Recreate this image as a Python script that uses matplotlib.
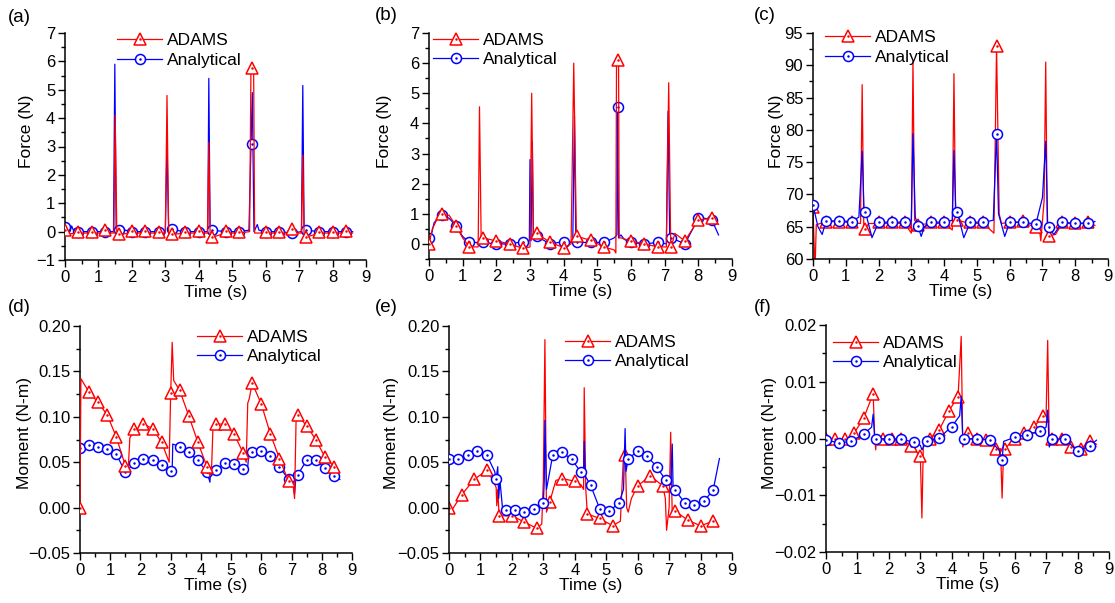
import numpy as np
import matplotlib
matplotlib.use("Agg")
import matplotlib.pyplot as plt
from matplotlib.lines import Line2D
from matplotlib.ticker import MultipleLocator, FuncFormatter

plt.rcParams['font.family'] = ['Liberation Sans', 'DejaVu Sans']

# ---------------- marker time grids ----------------
T04 = [0.0, 0.4, 0.8, 1.2, 1.6, 2.0, 2.4, 2.8, 3.2, 3.6, 4.0, 4.4, 4.8, 5.2,
       5.6, 6.0, 6.4, 6.8, 7.2, 7.6, 8.0, 8.4]
T03 = [0.0, 0.3, 0.6, 0.9, 1.2, 1.5, 1.8, 2.1, 2.4, 2.7, 3.0, 3.3, 3.6, 3.9,
       4.2, 4.5, 4.8, 5.1, 5.4, 5.7, 6.0, 6.3, 6.6, 6.9, 7.2, 7.5, 7.8, 8.1, 8.4]

# ---------------- panel (a) ----------------
a_adams_t = [0.0, 0.1, 0.4, 0.8, 1.2, 1.46, 1.5, 1.55, 1.6, 2.0, 2.4, 2.8, 3.0, 3.05, 3.1, 3.2,
             3.6, 4.0, 4.26, 4.3, 4.34, 4.4, 4.8, 5.2, 5.52, 5.56, 5.64, 5.67, 5.7, 6.0, 6.4,
             6.8, 7.07, 7.11, 7.15, 7.2, 7.6, 8.0, 8.4, 8.6]
a_adams_y = [0.1, -0.08, -0.05, -0.05, -0.05, -0.05, 4.1, -0.1, -0.1, -0.05, -0.05, -0.05, -0.05,
             4.8, -0.1, -0.1, -0.05, -0.05, -0.05, 3.15, -0.2, -0.2, -0.05, -0.05, 0.0, 5.75, 5.75,
             -0.05, -0.05, -0.05, -0.05, -0.05, -0.05, 2.7, -0.2, -0.2, -0.05, -0.05, -0.05, -0.05]
a_anal_t = [0.0, 0.05, 0.1, 0.15, 0.2, 0.25, 0.3, 0.4, 0.8, 1.2, 1.45, 1.49, 1.53, 1.6, 1.7, 1.8,
            2.0, 2.4, 2.8, 3.0, 3.05, 3.1, 3.2, 3.25, 3.3, 3.6, 4.0, 4.27, 4.3, 4.34, 4.4, 4.8,
            5.2, 5.5, 5.6, 5.65, 5.75, 5.8, 6.0, 6.4, 6.8, 7.07, 7.11, 7.15, 7.2, 7.6, 8.0, 8.4, 8.6]
a_anal_y = [0.2, 0.05, 0.25, 0.0, 0.2, 0.05, 0.1, 0.0, 0.0, 0.0, 0.0, 5.9, 0.0, 0.05, 0.2, 0.05,
            0.0, 0.0, 0.0, 0.0, 3.1, 0.0, 0.1, 0.2, 0.05, 0.0, 0.0, 0.0, 5.4, 0.0, 0.05, 0.0,
            0.0, 0.05, 4.9, 0.0, 0.25, 0.05, 0.0, 0.0, -0.05, 0.0, 5.15, 0.0, 0.05, 0.0, 0.0, 0.0, 0.0]
a_adams_mk = [0.05, 0.0, 0.0, 0.05, -0.1, 0.02, 0.02, 0.0, -0.1, 0.0, 0.02, -0.2, 0.02, 0.0,
              5.75, 0.0, 0.0, 0.08, -0.2, 0.0, 0.0, 0.02]
a_anal_mk = [0.15, 0.0, 0.0, 0.0, 0.05, 0.0, 0.0, 0.0, 0.1, 0.0, 0.0, 0.05, 0.0, 0.0,
             3.1, 0.0, 0.0, -0.05, 0.05, 0.0, 0.0, 0.0]

# ---------------- panel (b) ----------------
b_adams_t = [0.0, 0.1, 0.25, 0.4, 0.6, 0.8, 1.0, 1.2, 1.46, 1.5, 1.55, 1.6, 2.0, 2.4, 2.8, 3.0,
             3.05, 3.1, 3.2, 3.6, 4.0, 4.22, 4.3, 4.38, 4.4, 4.8, 5.2, 5.5, 5.55, 5.57, 5.63, 5.65,
             5.7, 6.0, 6.4, 6.8, 7.05, 7.12, 7.18, 7.2, 7.3, 7.6, 8.0, 8.4, 8.6]
b_adams_y = [0.0, 0.5, 0.85, 0.98, 0.95, 0.6, 0.2, -0.1, -0.1, 4.55, 0.1, 0.2, 0.1, 0.0, -0.15, -0.1,
             5.0, 0.2, 0.35, 0.05, -0.12, 0.0, 6.0, 0.1, 0.25, 0.12, -0.1, -0.2, -0.3, 6.1, 6.1, 0.2,
             0.2, 0.1, 0.0, -0.1, -0.1, 5.35, -0.1, -0.1, 0.35, 0.1, 0.8, 0.85, 0.65]
b_anal_t = [0.05, 0.15, 0.3, 0.4, 0.6, 0.8, 1.0, 1.2, 1.5, 1.6, 2.0, 2.4, 2.8, 2.98, 3.0, 3.03,
            3.07, 3.1, 3.2, 3.6, 4.0, 4.27, 4.32, 4.36, 4.4, 4.8, 5.2, 5.5, 5.58, 5.6, 5.63, 5.7,
            5.8, 6.0, 6.4, 6.8, 7.05, 7.1, 7.15, 7.2, 7.6, 8.0, 8.2, 8.4, 8.6]
b_anal_y = [0.2, 0.7, 0.9, 0.95, 0.85, 0.6, 0.25, 0.05, 0.05, 0.05, 0.0, 0.0, 0.08, 0.1, 2.8, 0.1,
            3.4, 0.2, 0.25, 0.0, 0.08, 0.05, 4.25, 0.1, 0.05, 0.05, 0.05, 0.2, 0.3, 4.55, 0.2, 0.3,
            0.15, 0.05, 0.0, 0.05, 0.0, 4.4, 0.15, 0.2, 0.0, 0.85, 0.85, 0.8, 0.3]
b_adams_mk = [0.0, 0.98, 0.6, -0.1, 0.2, 0.1, 0.0, -0.15, 0.35, 0.05, -0.12, 0.25, 0.12, -0.1,
              6.1, 0.1, 0.0, -0.1, -0.1, 0.1, 0.8, 0.85]
b_anal_mk = [0.2, 0.95, 0.6, 0.05, 0.05, 0.0, 0.0, 0.08, 0.25, 0.0, 0.08, 0.05, 0.05, 0.05,
             4.55, 0.05, 0.0, 0.05, 0.2, 0.0, 0.85, 0.8]

# ---------------- panel (c) ----------------
c_adams_t = [0.0, 0.03, 0.06, 0.1, 0.4, 0.8, 1.2, 1.45, 1.5, 1.55, 1.6, 1.7, 2.0, 2.4, 2.8, 3.0,
             3.05, 3.1, 3.2, 3.6, 4.0, 4.25, 4.3, 4.35, 4.4, 4.8, 5.2, 5.52, 5.6, 5.68, 5.75, 6.0,
             6.4, 6.75, 6.9, 6.95, 7.05, 7.1, 7.15, 7.2, 7.4, 7.6, 8.0, 8.4, 8.6]
c_adams_y = [68.0, 63.0, 58.0, 65.3, 65.8, 65.8, 65.6, 65.5, 87.0, 64.7, 64.7, 65.5, 65.5, 65.5,
             65.5, 64.0, 90.6, 66.0, 65.3, 65.5, 65.5, 64.5, 88.7, 66.0, 66.0, 65.5, 65.5, 64.0,
             93.0, 67.0, 65.5, 65.7, 65.7, 65.0, 65.0, 62.8, 69.0, 90.5, 64.0, 63.6, 63.8, 65.5,
             65.5, 65.5, 65.2]
c_anal_t = [0.0, 0.15, 0.28, 0.4, 0.8, 1.2, 1.4, 1.5, 1.56, 1.6, 1.8, 2.0, 2.4, 2.8, 3.0, 3.05,
            3.12, 3.3, 3.4, 3.6, 4.0, 4.25, 4.3, 4.36, 4.4, 4.6, 4.8, 5.2, 5.5, 5.6, 5.66, 5.85,
            6.0, 6.4, 6.8, 7.0, 7.1, 7.16, 7.35, 7.6, 8.0, 8.4, 8.6]
c_anal_y = [68.4, 65.0, 63.8, 65.9, 65.9, 65.8, 66.5, 76.7, 67.0, 67.3, 63.3, 65.7, 65.7, 65.7,
            66.0, 79.4, 66.5, 63.5, 65.0, 65.7, 65.7, 66.0, 76.8, 67.0, 67.3, 63.3, 65.7, 65.7,
            66.0, 79.4, 67.0, 63.5, 65.7, 65.7, 65.4, 69.5, 78.2, 65.0, 63.8, 65.7, 65.5, 65.6, 65.8]
c_adams_mk = [68.0, 65.8, 65.8, 65.8, 64.7, 65.8, 65.8, 65.8, 65.3, 65.8, 65.8, 66.0, 65.8, 65.8,
              93.0, 65.8, 65.9, 65.0, 63.6, 65.8, 65.6, 65.7]
c_anal_mk = [68.4, 65.9, 65.9, 65.8, 67.3, 65.7, 65.7, 65.7, 65.1, 65.7, 65.7, 67.3, 65.7, 65.7,
             79.4, 65.7, 65.7, 65.4, 65.0, 65.7, 65.5, 65.6]

# ---------------- panel (d) ----------------
d_adams_t = [0.0, 0.03, 0.3, 0.6, 0.9, 1.2, 1.5, 1.55, 1.6, 1.65, 1.8, 2.1, 2.4, 2.7, 2.95, 3.0,
             3.05, 3.1, 3.3, 3.6, 3.9, 4.2, 4.3, 4.35, 4.4, 4.5, 4.8, 5.1, 5.4, 5.5, 5.55, 5.6,
             5.7, 6.0, 6.3, 6.6, 6.9, 7.05, 7.1, 7.15, 7.2, 7.5, 7.8, 8.1, 8.4, 8.5]
d_adams_y = [0.0, 0.142, 0.127, 0.116, 0.102, 0.078, 0.046, 0.042, 0.045, 0.077, 0.084, 0.092,
             0.087, 0.072, 0.05, 0.125, 0.182, 0.14, 0.129, 0.101, 0.072, 0.045, 0.035, 0.04,
             0.088, 0.092, 0.092, 0.081, 0.060, 0.05, 0.115, 0.12, 0.137, 0.114, 0.081, 0.054,
             0.029, 0.025, 0.01, 0.097, 0.102, 0.090, 0.075, 0.056, 0.045, 0.04]
d_anal_t = [0.0, 0.3, 0.6, 0.9, 1.2, 1.5, 1.8, 2.1, 2.4, 2.7, 3.0, 3.05, 3.07, 3.3, 3.6, 3.9,
            4.2, 4.3, 4.32, 4.5, 4.8, 5.1, 5.4, 5.55, 5.6, 5.7, 6.0, 6.3, 6.6, 6.9, 7.05, 7.1,
            7.15, 7.2, 7.5, 7.8, 8.1, 8.4, 8.6]
d_anal_y = [0.066, 0.069, 0.067, 0.064, 0.059, 0.039, 0.049, 0.053, 0.052, 0.047, 0.040, 0.042,
            0.070, 0.067, 0.061, 0.052, 0.039, 0.028, 0.040, 0.041, 0.049, 0.048, 0.042, 0.045,
            0.065, 0.061, 0.062, 0.057, 0.045, 0.031, 0.028, 0.015, 0.036, 0.036, 0.052, 0.052,
            0.044, 0.035, 0.031]
d_adams_mk = [0.0, 0.127, 0.116, 0.102, 0.078, 0.046, 0.087, 0.092, 0.087, 0.072, 0.126, 0.129,
              0.101, 0.072, 0.045, 0.092, 0.092, 0.081, 0.060, 0.137, 0.114, 0.081, 0.054, 0.029,
              0.102, 0.090, 0.075, 0.056, 0.045]
d_anal_mk = [0.066, 0.069, 0.067, 0.064, 0.059, 0.039, 0.049, 0.053, 0.052, 0.047, 0.040, 0.067,
             0.061, 0.052, 0.039, 0.041, 0.049, 0.048, 0.042, 0.061, 0.062, 0.057, 0.045, 0.031,
             0.036, 0.052, 0.052, 0.044, 0.035]

# ---------------- panel (e) ----------------
e_adams_t = [0.0, 0.05, 0.4, 0.8, 1.2, 1.4, 1.5, 1.52, 1.55, 1.58, 1.6, 2.0, 2.4, 2.8, 2.95, 3.0,
             3.05, 3.1, 3.2, 3.4, 3.6, 4.0, 4.2, 4.28, 4.3, 4.35, 4.4, 4.8, 5.2, 5.45, 5.55, 5.6,
             5.62, 5.65, 5.7, 5.8, 6.0, 6.4, 6.8, 6.88, 6.92, 7.0, 7.05, 7.1, 7.2, 7.6, 8.0, 8.4]
e_adams_y = [0.0, -0.005, 0.014, 0.031, 0.041, 0.03, 0.022, 0.002, 0.02, 0.0, -0.009, -0.009,
             -0.016, -0.023, -0.018, 0.03, 0.185, -0.005, 0.006, 0.03, 0.032, 0.029, 0.025, 0.02,
             0.132, 0.02, -0.007, -0.012, -0.020, -0.015, 0.058, 0.06, 0.04, 0.0, -0.005, 0.01,
             0.024, 0.035, 0.024, 0.01, -0.025, 0.0, 0.083, -0.01, -0.004, -0.014, -0.020, -0.015]
e_anal_t = [0.0, 0.3, 0.6, 0.9, 1.2, 1.45, 1.5, 1.55, 1.58, 1.62, 1.7, 1.8, 2.1, 2.4, 2.7, 3.0,
            3.03, 3.05, 3.1, 3.3, 3.6, 3.9, 4.2, 4.28, 4.3, 4.33, 4.5, 4.8, 5.1, 5.4, 5.55, 5.6,
            5.63, 5.7, 6.0, 6.3, 6.6, 6.9, 7.05, 7.1, 7.13, 7.2, 7.5, 7.8, 8.1, 8.4, 8.6]
e_anal_y = [0.054, 0.053, 0.058, 0.062, 0.058, 0.04, 0.032, 0.045, 0.01, 0.03, 0.0, -0.003,
            -0.003, -0.005, -0.001, 0.005, 0.03, 0.096, 0.02, 0.058, 0.061, 0.053, 0.039, 0.035,
            0.073, 0.035, 0.025, -0.002, -0.004, 0.005, 0.02, 0.087, 0.04, 0.054, 0.062, 0.057,
            0.045, 0.030, 0.025, 0.07, 0.015, 0.019, 0.005, 0.003, 0.007, 0.019, 0.054]
e_adams_mk = [0.0, 0.014, 0.031, 0.041, -0.009, -0.009, -0.016, -0.023, 0.006, 0.032, 0.029,
              -0.007, -0.012, -0.020, 0.058, 0.024, 0.035, 0.024, -0.004, -0.014, -0.020, -0.015]
e_anal_mk = [0.054, 0.053, 0.058, 0.062, 0.058, 0.032, -0.003, -0.003, -0.005, -0.001, 0.005,
             0.058, 0.061, 0.053, 0.039, 0.025, -0.002, -0.004, 0.005, 0.054, 0.062, 0.057,
             0.045, 0.030, 0.019, 0.005, 0.003, 0.007, 0.019]

# ---------------- panel (f) ----------------
f_adams_t = [0.0, 0.15, 0.3, 0.45, 0.6, 0.75, 0.9, 1.2, 1.5, 1.55, 1.58, 1.6, 1.8, 1.95, 2.1,
             2.25, 2.4, 2.7, 3.0, 3.05, 3.1, 3.3, 3.6, 3.9, 4.2, 4.3, 4.35, 4.5, 4.8, 5.1, 5.4,
             5.55, 5.6, 5.65, 5.7, 5.9, 6.0, 6.3, 6.6, 6.9, 7.0, 7.05, 7.1, 7.2, 7.4, 7.5, 7.8,
             8.1, 8.4, 8.6]
f_adams_y = [0.0, -0.0005, 0.0005, -0.0005, 0.0005, -0.0005, 0.001, 0.0036, 0.0079, 0.0, -0.002,
             -0.0005, 0.0, -0.0005, 0.0005, -0.0005, 0.0, -0.0013, -0.0031, -0.014, 0.0, 0.0,
             0.0015, 0.0048, 0.0074, 0.018, -0.0015, 0.001, 0.0, -0.0002, -0.0018, -0.0018,
             -0.0105, -0.0018, -0.0018, -0.0005, 0.0, 0.001, 0.002, 0.0039, 0.004, 0.0173, -0.001,
             0.0, -0.0005, 0.0005, -0.0015, -0.0018, -0.0005, -0.001]
f_anal_t = [0.0, 0.4, 0.8, 1.2, 1.45, 1.5, 1.55, 1.6, 2.0, 2.4, 2.8, 3.0, 3.05, 3.2, 3.6, 4.0,
            4.25, 4.3, 4.35, 4.4, 4.8, 5.2, 5.5, 5.6, 5.65, 6.0, 6.4, 6.8, 7.0, 7.05, 7.1, 7.2,
            7.6, 8.0, 8.4, 8.6]
f_anal_y = [-0.0002, -0.0008, -0.0005, 0.0008, 0.002, 0.0043, -0.0001, -0.0001, 0.0, -0.0001,
            -0.0007, -0.0012, -0.002, -0.0005, 0.0001, 0.0021, 0.004, 0.0074, -0.0001, -0.0001,
            0.0, -0.0003, -0.002, -0.0038, -0.0005, 0.0002, 0.0007, 0.0013, 0.002, 0.005,
            -0.0015, -0.0001, -0.0001, -0.0022, -0.0013, -0.0003]
f_adams_mk = [0.0, 0.0, 0.0, 0.001, 0.0036, 0.0079, 0.0, 0.0, 0.0, -0.0013, -0.0031, 0.0, 0.0015,
              0.0048, 0.0074, 0.001, 0.0, -0.0002, -0.0018, -0.0018, 0.0, 0.001, 0.002, 0.0039,
              0.0, 0.0, -0.0015, -0.0018, -0.0005]
f_anal_mk = [-0.0002, -0.0008, -0.0005, 0.0008, -0.0001, 0.0, -0.0001, -0.0007, -0.0005, 0.0001,
             0.0021, -0.0001, 0.0, -0.0003, -0.0038, 0.0002, 0.0007, 0.0013, -0.0001, -0.0001,
             -0.0022, -0.0013]

# ---------------- layout / styling ----------------
W, H = 1115, 603
RED = '#ff0000'
BLUE = '#0000ff'

panels = [
    dict(tag='(a)', box=(65, 366, 33, 260), ylim=(-1, 7), major=1, minor=0.5, fmt='%d',
         ylabel='Force (N)', adams=(a_adams_t, a_adams_y, T04, a_adams_mk),
         anal=(a_anal_t, a_anal_y, T04, a_anal_mk), red_top=True, leg=(117, 50.5), lab=(8, 18),
         ylab=(27, 131)),
    dict(tag='(b)', box=(429, 732, 33, 259), ylim=(-0.5, 7), major=1, minor=0.5, fmt='%d',
         ylabel='Force (N)', adams=(b_adams_t, b_adams_y, T04, b_adams_mk),
         anal=(b_anal_t, b_anal_y, T04, b_anal_mk), red_top=True, leg=(433, 50), lab=(375, 16),
         ylab=(385, 131)),
    dict(tag='(c)', box=(813, 1108, 33, 259), ylim=(60, 95), major=5, minor=2.5, fmt='%d',
         ylabel='Force (N)', adams=(c_adams_t, c_adams_y, T04, c_adams_mk),
         anal=(c_anal_t, c_anal_y, T04, c_anal_mk), red_top=False, leg=(825, 47.5), lab=(754, 16),
         ylab=(777, 131)),
    dict(tag='(d)', box=(80, 352, 326, 553), ylim=(-0.05, 0.2), major=0.05, minor=0.025,
         fmt='%.2f', ylabel='Moment (N-m)', adams=(d_adams_t, d_adams_y, T03, d_adams_mk),
         anal=(d_anal_t, d_anal_y, T03, d_anal_mk), red_top=True, leg=(197, 347), lab=(8, 307),
         ylab=(25, 433)),
    dict(tag='(e)', box=(449, 732, 326, 553), ylim=(-0.05, 0.2), major=0.05, minor=0.025,
         fmt='%.2f', ylabel='Moment (N-m)', adams=(e_adams_t, e_adams_y, T04, e_adams_mk),
         anal=(e_anal_t, e_anal_y, T03, e_anal_mk), red_top=False, leg=(565, 352), lab=(375, 307),
         ylab=(392, 433)),
    dict(tag='(f)', box=(826, 1109, 325, 552), ylim=(-0.02, 0.02), major=0.01, minor=0.005,
         fmt='%.2f', ylabel='Moment (N-m)', adams=(f_adams_t, f_adams_y, T03, f_adams_mk),
         anal=(f_anal_t, f_anal_y, T04, f_anal_mk), red_top=False, leg=(833, 353), lab=(754, 307),
         ylab=(770, 433)),
]

TICK_FS = 12
LAB_FS = 12.5
LEG_FS = 12.5

fig = plt.figure(figsize=(W / 100, H / 100), dpi=100)

def make_fmt(fmt):
    def f(v, pos):
        s = fmt % (round(v) if fmt == '%d' else v)
        if s.startswith('-') and float(s) == 0:
            s = s[1:]
        return s.replace('-', '\u2212')
    return FuncFormatter(f)

for p in panels:
    l, r, t, b = p['box']
    ax = fig.add_axes([l / W, 1 - b / H, (r - l) / W, (b - t) / H])
    ax.set_facecolor('white')
    z_red, z_blue = (3, 2) if p['red_top'] else (2, 3)

    at, ay, amt, amy = p['adams']
    nt, ny, nmt, nmy = p['anal']
    ax.plot(nt, ny, color=BLUE, lw=0.9, zorder=z_blue)
    ax.plot(nmt, nmy, ls='none', marker='o', ms=7.2, mfc='white', mec=BLUE, mew=1.1,
            zorder=z_blue + 0.1)
    ax.plot(nmt, nmy, ls='none', marker='.', ms=1.6, color=BLUE, zorder=z_blue + 0.2)
    ax.plot(at, ay, color=RED, lw=0.9, zorder=z_red)
    ax.plot(amt, amy, ls='none', marker='^', ms=8, mfc='white', mec=RED, mew=1.1,
            zorder=z_red + 0.1)
    ax.plot(amt, amy, ls='none', marker='.', ms=1.6, color=RED, zorder=z_red + 0.2)

    ax.set_xlim(0, 9)
    ax.set_ylim(*p['ylim'])
    ax.xaxis.set_major_locator(MultipleLocator(1))
    ax.xaxis.set_minor_locator(MultipleLocator(0.5))
    ax.yaxis.set_major_locator(MultipleLocator(p['major']))
    ax.yaxis.set_minor_locator(MultipleLocator(p['minor']))
    ax.yaxis.set_major_formatter(make_fmt(p['fmt']))
    ax.xaxis.set_major_formatter(FuncFormatter(lambda v, pos: '%d' % round(v)))
    for s in ('top', 'right'):
        ax.spines[s].set_visible(False)
    for s in ('left', 'bottom'):
        ax.spines[s].set_linewidth(1.1)
    ax.tick_params(which='major', direction='out', length=5, width=1.0, labelsize=TICK_FS, pad=2)
    ax.tick_params(which='minor', direction='out', length=3, width=1.0)
    ax.set_xlabel('Time (s)', fontsize=LAB_FS, labelpad=0)
    ax.set_ylabel(p['ylabel'], fontsize=LAB_FS)
    yx, yy = p['ylab']
    ax.yaxis.set_label_coords((yx + 7 - l) / (r - l), (b - yy) / (b - t))

    h_adams = (Line2D([], [], color=RED, lw=0.9, marker='^', ms=8, mfc='white', mec=RED, mew=1.1),
               Line2D([], [], ls='none', marker='.', ms=1.6, color=RED))
    h_anal = (Line2D([], [], color=BLUE, lw=0.9, marker='o', ms=7.2, mfc='white', mec=BLUE, mew=1.1),
              Line2D([], [], ls='none', marker='.', ms=1.6, color=BLUE))
    lx, ly = p['leg']
    leg = ax.legend([h_adams, h_anal], ['ADAMS', 'Analytical'], loc='center left',
                    bbox_to_anchor=(lx / W, 1 - ly / H), bbox_transform=fig.transFigure,
                    frameon=False, fontsize=LEG_FS, borderpad=0, borderaxespad=0,
                    handlelength=2.6, handletextpad=0.25, labelspacing=0.25)
    leg.set_zorder(10)

    fx, fy = p['lab']
    fig.text(fx / W, 1 - fy / H, p['tag'], fontsize=13.5, ha='left', va='center')

fig.savefig('out.png', dpi=100, facecolor='white')
